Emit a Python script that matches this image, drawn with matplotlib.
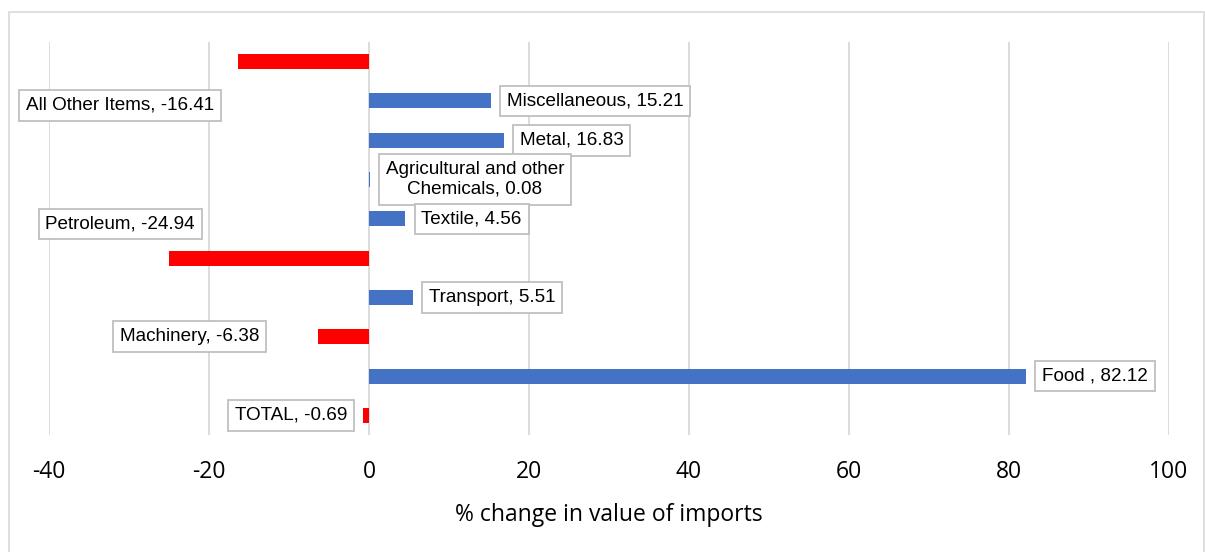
import matplotlib
matplotlib.use("Agg")
import matplotlib.pyplot as plt
from matplotlib.patches import Rectangle

# Import categories, top to bottom, and their % change in value
categories = ["All Other Items", "Miscellaneous", "Metal",
              "Agricultural and other\nChemicals", "Textile", "Petroleum",
              "Transport", "Machinery", "Food ", "TOTAL"]
changes = [-16.41, 15.21, 16.83, 0.08, 4.56, -24.94, 5.51, -6.38, 82.12, -0.69]
x_ticks = [-40, -20, 0, 20, 40, 60, 80, 100]

# Placement of the callouts for the decreasing categories (data coordinates)
neg_label_pos = {
    "All Other Items": (-31.1, 1.11),
    "Petroleum": (-31.1, 4.13),
    "Machinery": (-22.4, 7.0),
    "TOTAL": (-9.75, 9.0),
}

BLUE = "#4472C4"
RED = "#FF0000"
GRID = "#D9D9D9"

fig = plt.figure(figsize=(12.05, 5.52), dpi=100)
W, H = 1205, 552

# light chart frame
fig.patches.append(Rectangle((9 / W, -0.05), (1204 - 9) / W, 1.05 - 12 / H,
                             transform=fig.transFigure, fill=False,
                             edgecolor=GRID, linewidth=1.2))

ax = fig.add_axes([49 / W, (552 - 435) / H, (1169 - 49) / W, (435 - 42) / H])

ypos = list(range(len(categories)))
colors = [BLUE if v >= 0 else RED for v in changes]
ax.barh(ypos, changes, height=0.38, color=colors, zorder=3)

ax.set_xlim(-40, 100)
ax.set_ylim(len(categories) - 0.5, -0.5)
ax.set_xticks(x_ticks)
ax.set_xticklabels([str(t) for t in x_ticks], fontsize=16.5,
                   family="Open Sans")
ax.set_yticks([])
ax.tick_params(axis="x", length=0, pad=18)
for s in ax.spines.values():
    s.set_visible(False)
ax.grid(axis="x", color=GRID, linewidth=1.3, zorder=0)
ax.set_xlabel("% change in value of imports", fontsize=16.5,
              family="Open Sans", labelpad=14)

box = dict(boxstyle="square,pad=0.36", facecolor="white",
           edgecolor="#BFBFBF", linewidth=1.3)
for i, (cat, val) in enumerate(zip(categories, changes)):
    txt = f"{cat}, {val:.2f}"
    if val >= 0:
        ax.annotate(txt, xy=(val, i), xytext=(16, 0),
                    textcoords="offset pixels", ha="left", va="center",
                    fontsize=13.6, family="Liberation Sans",
                    multialignment="center", bbox=box, zorder=5)
    else:
        lx, ly = neg_label_pos[cat]
        ax.text(lx, ly, txt, ha="center", va="center", fontsize=13.6,
                family="Liberation Sans", bbox=box, zorder=5)

fig.savefig("out.png", dpi=100)
